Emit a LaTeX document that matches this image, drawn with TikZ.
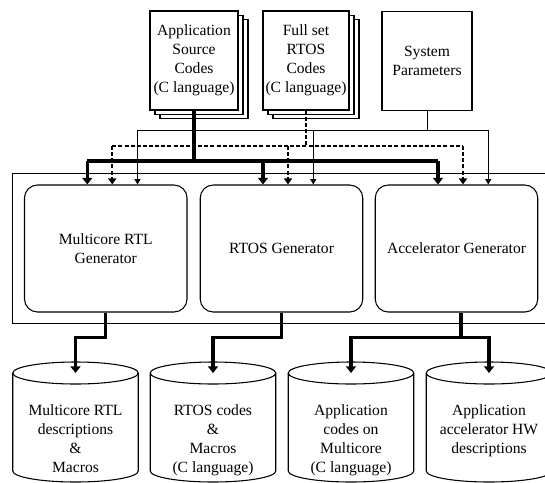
\documentclass[tikz,border=0pt]{standalone}
\usepackage{fontspec}
\setmainfont{Liberation Serif}
\usetikzlibrary{arrows.meta,calc,shadows}

\begin{document}
\begin{tikzpicture}[x=0.75pt,y=-0.75pt,
  every node/.style={font=\fontsize{11.7}{14.3}\selectfont, align=center},
  doc/.style={draw, line width=0.8pt, fill=white, minimum height=74.25pt, inner sep=1pt},
  docstack/.style={doc,
    general shadow={shadow xshift=7.5pt, shadow yshift=-6.5pt, draw, fill=white, line width=0.8pt},
    general shadow={shadow xshift=3.75pt, shadow yshift=-3.25pt, draw, fill=white, line width=0.8pt}},
  gen/.style={draw, line width=0.8pt, rounded corners=9.75pt, minimum width=121.9pt, minimum height=95.25pt},
  thinbus/.style={line width=0.75pt},
  thinarrow/.style={thinbus, -{Triangle[width=4.5pt,length=4pt]}},
  dashbus/.style={line width=1.8pt, dash pattern=on 3pt off 1.6pt},
  dasharrow/.style={dashbus, -{Triangle[width=6pt,length=4.5pt]}},
  thickbus/.style={line width=2.3pt},
  thickarrow/.style={thickbus, -{Triangle[width=7.5pt,length=5pt]}}]

  \useasboundingbox (0,0) rectangle (545,482);

  % input files
  \node [docstack, minimum width=66pt] (app) at (194,60.5) {Application\\Source\\Codes\\(C language)};
  \node [docstack, minimum width=64.5pt] (rtos) at (306,60.5) {Full set\\RTOS\\Codes\\(C language)};
  \node [doc, minimum width=67.5pt] (sysp) at (427,61) {System\\Parameters};

  % generators
  \draw [line width=0.8pt] (12.3,173.5) rectangle (570,323.3);
  \node [gen] (mgen) at (105.75,248.5) {Multicore RTL\\Generator};
  \node [gen] (rgen) at (281.5,248.5) {RTOS Generator};
  \node [gen] (agen) at (456.5,248.5) {Accelerator Generator};

  % outputs
  \foreach \cx [count=\i] in {75.5,213,351,489} {
    \draw [line width=0.8pt] (\cx-62.75,373) -- (\cx-62.75,471) arc [start angle=180,end angle=0,x radius=62.75,y radius=11] -- (\cx+62.75,373);
    \draw [line width=0.8pt] (\cx,373) ellipse [x radius=62.75,y radius=11];
    \coordinate (c\i) at (\cx,373);
  }
  \node [anchor=north] (out1) at (75.5,400) {Multicore RTL\\descriptions\\\&\\Macros};
  \node [anchor=north] (out2) at (213,400) {RTOS codes\\\&\\Macros\\(C language)};
  \node [anchor=north] (out3) at (351,400) {Application\\codes on\\Multicore\\(C language)};
  \node [anchor=north] (out4) at (489,400) {Application\\accelerator HW\\descriptions};

  % input buses
  \coordinate (pbus) at (427,130);
  \coordinate (rbus) at (306,146);
  \coordinate (abus) at (194,161);
  \foreach \g in {mgen,rgen,agen} {
    \coordinate (\g-a) at ($(\g.north)+(-18.5,0)$);
    \coordinate (\g-r) at ($(\g.north)+(6.5,0)$);
    \coordinate (\g-p) at ($(\g.north)+(31.75,0)$);
  }

  \draw [thinbus] (sysp.south) -- (pbus);
  \draw [thinbus] (mgen-p |- pbus) -- (agen-p |- pbus);
  \foreach \g in {mgen,rgen,agen} \draw [thinarrow] (\g-p |- pbus) -- (\g-p);

  \draw [dashbus] (rtos.south) -- (rbus);
  \draw [dashbus] (mgen-r |- rbus) -- (agen-r |- rbus);
  \foreach \g in {mgen,rgen,agen} \draw [dasharrow] (\g-r |- rbus) -- (\g-r);

  \draw [thickbus] (app.south) -- (abus);
  \draw [thickbus] (mgen-a |- abus) -- (agen-a |- abus);
  \foreach \g in {mgen,rgen,agen} \draw [thickarrow] (\g-a |- abus) -- (\g-a);

  % generator outputs
  \draw [thickarrow] (mgen.south) -- ++(0,25) -| (c1);
  \draw [thickarrow] (rgen.south) -- ++(0,25) -| (c2);
  \coordinate (asplit) at ($(agen.south)+(4.5,25)$);
  \draw [thickbus] ($(agen.south)+(4.5,0)$) -- (asplit);
  \draw [thickarrow] (asplit) -| (c3);
  \draw [thickarrow] (asplit) -| (c4);

\end{tikzpicture}
\end{document}
